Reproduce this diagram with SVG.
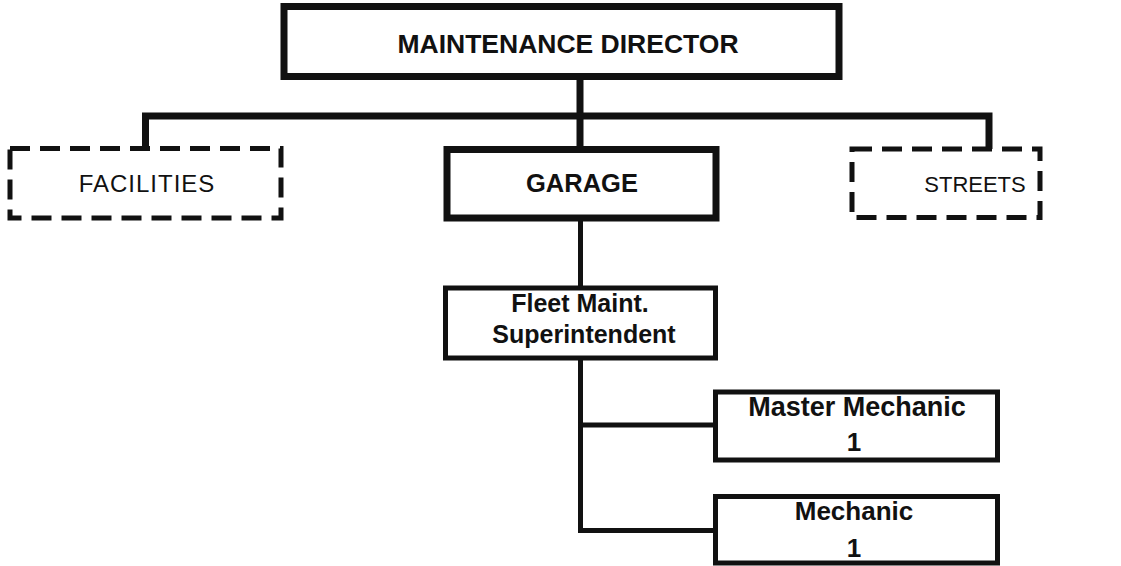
<svg xmlns="http://www.w3.org/2000/svg" width="1121" height="566" viewBox="0 0 1121 566">
<style>
.box{fill:#fff;stroke:#111;}
.thick{stroke-width:7;}
.mid{stroke-width:5;}
.dash{stroke-width:5;stroke-dasharray:20 10;}
.conn{fill:none;stroke:#111;stroke-linejoin:miter;stroke-linecap:square;}
text{font-family:"Liberation Sans",Arial,sans-serif;fill:#111;text-anchor:middle;}
.b{font-weight:bold;}
</style>
<rect width="1121" height="566" fill="#fff"/>
<g id="connectors">
<path class="conn" d="M580 78 V149" stroke-width="7"/>
<path class="conn" d="M145.5 148 V116 H989 V148" stroke-width="7"/>
<path class="conn" d="M580.5 218 V288" stroke-width="5"/>
<path class="conn" d="M580.5 358 V530.5 H715" stroke-width="5"/>
<path class="conn" d="M580.5 425 H715" stroke-width="5"/>
</g>
<g id="director">
<rect class="box thick" x="284" y="6.5" width="555" height="70"/>
<text class="b" x="568" y="53" font-size="26.5">MAINTENANCE DIRECTOR</text>
</g>
<g id="facilities">
<rect class="box dash" x="10" y="148.5" width="271" height="69.5"/>
<text x="147" y="192" font-size="24" letter-spacing="1">FACILITIES</text>
</g>
<g id="garage">
<rect class="box thick" x="447" y="149.5" width="269" height="68.5"/>
<text class="b" x="582" y="192" font-size="25.5">GARAGE</text>
</g>
<g id="streets">
<rect class="box dash" x="852" y="149" width="188" height="68.5"/>
<text x="975" y="192" font-size="22">STREETS</text>
</g>
<g id="fleet">
<rect class="box mid" x="445.5" y="288" width="270" height="70"/>
<text class="b" x="580" y="312" font-size="25">Fleet Maint.</text>
<text class="b" x="584" y="343" font-size="25">Superintendent</text>
</g>
<g id="master">
<rect class="box mid" x="715.5" y="392" width="282" height="68"/>
<text class="b" x="857" y="416" font-size="27">Master Mechanic</text>
<text class="b" x="854" y="451" font-size="26">1</text>
</g>
<g id="mechanic">
<rect class="box mid" x="715.5" y="496.5" width="282" height="66.5"/>
<text class="b" x="854" y="520" font-size="26">Mechanic</text>
<text class="b" x="854" y="557" font-size="26">1</text>
</g>
</svg>
